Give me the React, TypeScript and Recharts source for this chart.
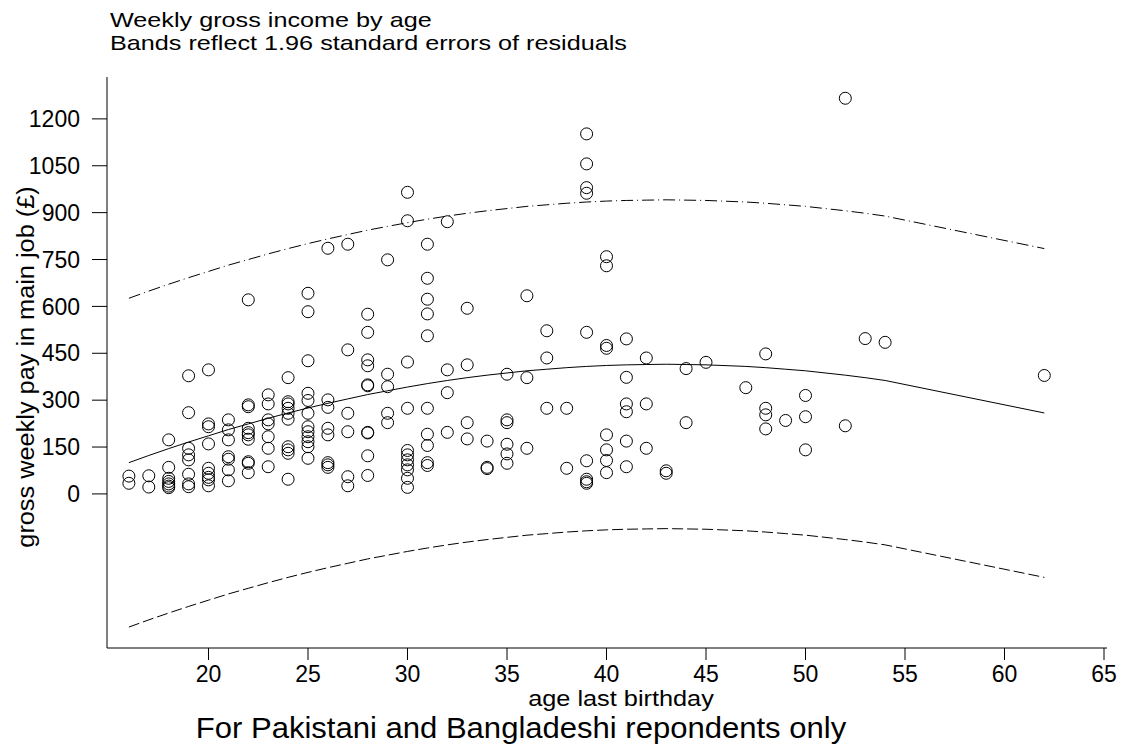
import { ComposedChart, Scatter, Line, XAxis, YAxis } from "recharts";

// observed points: age last birthday, gross weekly pay (£)
const ages = [
  16, 16, 17, 17,
  18, 18, 18, 18, 18, 18, 18,
  19, 19, 19, 19, 19, 19, 19, 19,
  20, 20, 20, 20, 20, 20, 20, 20, 20,
  21, 21, 21, 21, 21, 21, 21,
  22, 22, 22, 22, 22, 22, 22, 22, 22, 22,
  23, 23, 23, 23, 23, 23, 23,
  24, 24, 24, 24, 24, 24, 24, 24, 24, 24,
  25, 25, 25, 25, 25, 25, 25, 25, 25, 25, 25, 25,
  26, 26, 26, 26, 26, 26, 26, 26,
  27, 27, 27, 27, 27, 27,
  28, 28, 28, 28, 28, 28, 28, 28, 28, 28,
  29, 29, 29, 29, 29,
  30, 30, 30, 30, 30, 30, 30, 30, 30, 30, 30,
  31, 31, 31, 31, 31, 31, 31, 31, 31, 31,
  32, 32, 32, 32,
  33, 33, 33, 33,
  34, 34, 34,
  35, 35, 35, 35, 35, 35,
  36, 36, 36,
  37, 37, 37,
  38, 38,
  39, 39, 39, 39, 39, 39, 39, 39, 39,
  40, 40, 40, 40, 40, 40, 40, 40,
  41, 41, 41, 41, 41, 41,
  42, 42, 42,
  43, 43,
  44, 44,
  45,
  47,
  48, 48, 48, 48,
  49,
  50, 50, 50,
  52, 52,
  53,
  54,
  62,
];
const pay = [
  57, 34, 58, 22,
  173, 85, 50, 40, 32, 25, 20,
  378, 260, 146, 125, 109, 63, 32, 23,
  397, 224, 215, 160, 82, 66, 53, 45, 26,
  237, 205, 173, 119, 111, 77, 42,
  621, 285, 279, 210, 196, 189, 175, 103, 98, 68,
  317, 288, 237, 224, 183, 146, 87,
  372, 295, 288, 274, 258, 239, 151, 141, 130, 47,
  642, 583, 426, 322, 299, 258, 215, 199, 183, 167, 151, 114,
  786, 301, 277, 210, 189, 100, 93, 85,
  799, 461, 258, 199, 55, 26,
  575, 517, 429, 410, 349, 346, 197, 195, 122, 59,
  749, 383, 343, 258, 228,
  965, 874, 422, 274, 139, 125, 109, 93, 77, 50, 21,
  799, 690, 623, 576, 506, 274, 191, 155, 100, 91,
  871, 397, 324, 197,
  594, 413, 228, 176,
  169, 85, 81,
  383, 237, 228, 159, 128, 98,
  634, 372, 146,
  522, 435, 274,
  274, 82,
  1152, 1056, 980, 962, 517, 106, 47, 39, 34,
  759, 730, 475, 466, 189, 141, 107, 68,
  496, 373, 288, 263, 169, 87,
  435, 288, 146,
  74, 66,
  401, 228,
  421,
  340,
  448, 274, 253, 208,
  235,
  315, 247, 141,
  1266, 218,
  497,
  485,
  379,
];

// fitted curve and 1.96 s.e. bands, read at the ages present in the data
const fitAges = [16, 17, 18, 19, 20, 21, 22, 23, 24, 25, 26, 27, 28, 29, 30, 31, 32, 33, 34, 35, 36, 37, 38, 39, 40, 41, 42, 43, 44, 45, 47, 48, 49, 50, 52, 53, 54, 62];
const fitted = [100, 123, 145, 166, 186, 206, 224, 242, 259, 275, 290, 304, 318, 330, 342, 353, 363, 372, 380, 387, 394, 399, 404, 408, 411, 413, 414, 415, 414, 413, 408, 404, 399, 394, 380, 372, 363, 259];
const upperBand = [626, 649, 671, 692, 712, 732, 750, 768, 785, 801, 816, 830, 844, 856, 868, 879, 889, 898, 906, 913, 920, 925, 930, 934, 937, 939, 940, 941, 940, 939, 934, 930, 925, 920, 906, 898, 889, 785];
const lowerBand = [-426, -403, -381, -360, -340, -320, -302, -284, -267, -251, -236, -222, -208, -196, -184, -173, -163, -154, -146, -139, -132, -127, -122, -118, -115, -113, -112, -111, -112, -113, -118, -122, -127, -132, -146, -154, -163, -267];

const xTicks = [20, 25, 30, 35, 40, 45, 50, 55, 60, 65];
const yTicks = [0, 150, 300, 450, 600, 750, 900, 1050, 1200];

const points = ages.map((a, i) => ({ age: a, pay: pay[i] }));
const fitData = fitAges.map((a, i) => ({ age: a, fit: fitted[i], upper: upperBand[i], lower: lowerBand[i] }));

const font = "Arial, 'Liberation Sans', sans-serif";

const Ring = (p: any) => <circle cx={p.cx} cy={p.cy} r={6} fill="none" stroke="#000" strokeWidth={1} />;

const txt = (extra: any) => ({
  position: "absolute" as const,
  whiteSpace: "nowrap" as const,
  lineHeight: 1,
  color: "#000",
  ...extra,
});

export default function App() {
  return (
    <div style={{ position: "absolute", left: 0, top: 0, width: 1125, height: 752, background: "#fff", fontFamily: font }}>
      <div style={txt({ left: 110, top: 9, fontSize: 21, transform: "scaleX(1.2)", transformOrigin: "left" })}>
        Weekly gross income by age
      </div>
      <div style={txt({ left: 110, top: 32, fontSize: 21, transform: "scaleX(1.2)", transformOrigin: "left" })}>
        Bands reflect 1.96 standard errors of residuals
      </div>
      <ComposedChart width={1125} height={752} margin={{ top: 77, right: 18, bottom: 0, left: 0 }}>
        <XAxis
          dataKey="age"
          type="number"
          domain={[14.9, 65.15]}
          ticks={xTicks}
          allowDataOverflow
          height={104}
          tickSize={12}
          tickMargin={6}
          axisLine={{ stroke: "#000" }}
          tickLine={{ stroke: "#000" }}
          tick={{ fontSize: 23, fill: "#000", fontFamily: font }}
        />
        <YAxis
          dataKey="pay"
          type="number"
          domain={[-493, 1334]}
          ticks={yTicks}
          allowDataOverflow
          width={107}
          tickSize={15}
          tickMargin={12}
          axisLine={{ stroke: "#000" }}
          tickLine={{ stroke: "#000" }}
          tick={{ fontSize: 23, fill: "#000", fontFamily: font }}
        />
        <Scatter data={points} dataKey="pay" shape={Ring} isAnimationActive={false} />
        <Line data={fitData} dataKey="fit" type="linear" stroke="#000" strokeWidth={1} dot={false} isAnimationActive={false} />
        <Line data={fitData} dataKey="upper" type="linear" stroke="#000" strokeWidth={1} strokeDasharray="12 4 1 4" dot={false} isAnimationActive={false} />
        <Line data={fitData} dataKey="lower" type="linear" stroke="#000" strokeWidth={1} strokeDasharray="11 4" dot={false} isAnimationActive={false} />
      </ComposedChart>
      <div style={txt({ left: 621, top: 688, fontSize: 22, transform: "translateX(-50%) scaleX(1.15)" })}>
        age last birthday
      </div>
      <div style={txt({ left: 521, top: 714, fontSize: 29, transform: "translateX(-50%) scaleX(1.07)" })}>
        For Pakistani and Bangladeshi repondents only
      </div>
      <div style={txt({ left: 26, top: 367, fontSize: 23, transform: "translate(-50%, -50%) rotate(-90deg) scaleX(1.1)" })}>
        gross weekly pay in main job (£)
      </div>
    </div>
  );
}
